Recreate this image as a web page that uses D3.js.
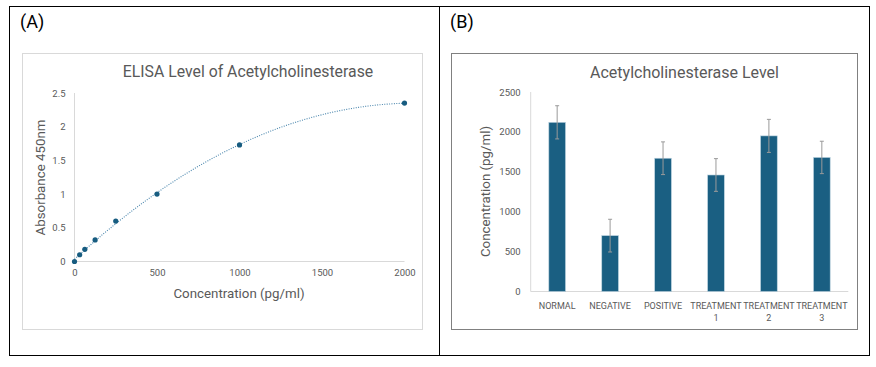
<!DOCTYPE html>
<html><head><meta charset="utf-8">
<script src="https://cdn.jsdelivr.net/npm/d3@7"></script>
<style>
html,body{margin:0;padding:0;background:#fff;}
svg{display:block;font-family:Roboto,"Open Sans",sans-serif;}
</style></head>
<body>
<svg id="c" width="876" height="367"></svg>
<script>
// Panel A data: ELISA standard curve
const stdConc = [0, 31.25, 62.5, 125, 250, 500, 1000, 2000];
const stdAbs = [0, 0.10, 0.18, 0.32, 0.60, 1.00, 1.73, 2.35];
const aXTicks = [0, 500, 1000, 1500, 2000];
const aYTicks = [0, 0.5, 1, 1.5, 2, 2.5];

// Panel B data: bars with error bars
const groups = ["NORMAL", "NEGATIVE", "POSITIVE", "TREATMENT 1", "TREATMENT 2", "TREATMENT 3"];
const groupValues = [2120, 700, 1670, 1460, 1950, 1680];
const groupErrors = [208, 205, 205, 205, 207, 203];
const bYTicks = [0, 500, 1000, 1500, 2000, 2500];

const svg = d3.select("#c");

// outer frame
svg.append("rect").attr("x", 9.5).attr("y", 6.5).attr("width", 860).attr("height", 349)
  .attr("fill", "none").attr("stroke", "#000").attr("stroke-width", 1);
svg.append("line").attr("x1", 439.5).attr("x2", 439.5).attr("y1", 6.5).attr("y2", 355.5)
  .attr("stroke", "#000");

// panel labels
svg.append("text").attr("x", 20).attr("y", 28).attr("font-size", 18).attr("fill", "#000").text("(A)");
svg.append("text").attr("x", 450).attr("y", 28).attr("font-size", 18).attr("fill", "#000").text("(B)");

// ---------- Panel A ----------
svg.append("rect").attr("x", 22.5).attr("y", 53.5).attr("width", 400).attr("height", 276)
  .attr("fill", "#fff").attr("stroke", "#d9d9d9");
svg.append("text").attr("x", 248).attr("y", 77).attr("text-anchor", "middle")
  .attr("font-size", 15.8).attr("fill", "#595959").text("ELISA Level of Acetylcholinesterase");

const xA = d3.scaleLinear().domain([0, 2000]).range([74.5, 404.5]);
const yA = d3.scaleLinear().domain([0, 2.5]).range([261.5, 93]);

const gA = svg.append("g");
gA.append("line").attr("x1", xA(0)).attr("x2", xA(0)).attr("y1", yA(2.5)).attr("y2", yA(0)).attr("stroke", "#d9d9d9");
gA.append("line").attr("x1", xA(0)).attr("x2", xA(2000)).attr("y1", yA(0)).attr("y2", yA(0)).attr("stroke", "#d9d9d9");

const axA = d3.axisBottom(xA).tickValues(aXTicks).tickSize(0).tickPadding(8).tickFormat(d3.format("d"));
gA.append("g").attr("transform", `translate(0,${yA(0)})`).call(axA)
  .call(g => g.select(".domain").remove())
  .call(g => g.selectAll("text").attr("font-size", 9.5).attr("fill", "#595959").attr("font-family", "Roboto"));
const ayA = d3.axisLeft(yA).tickValues(aYTicks).tickSize(0).tickPadding(9).tickFormat(d => String(d));
gA.append("g").attr("transform", `translate(${xA(0)},0)`).call(ayA)
  .call(g => g.select(".domain").remove())
  .call(g => g.selectAll("text").attr("font-size", 9.5).attr("fill", "#595959").attr("font-family", "Roboto"));

gA.append("text").attr("x", 239).attr("y", 298).attr("text-anchor", "middle")
  .attr("font-size", 13.3).attr("fill", "#595959").text("Concentration (pg/ml)");
gA.append("text").attr("transform", "translate(45,177.5) rotate(-90)").attr("text-anchor", "middle")
  .attr("font-size", 13.3).attr("fill", "#595959").text("Absorbance 450nm");

// quadratic least-squares trendline (computed from the data)
function polyfit2(xs, ys) {
  let S = [[0,0,0],[0,0,0],[0,0,0]], T = [0,0,0];
  xs.forEach((x, i) => {
    const p = [1, x, x*x];
    for (let r = 0; r < 3; r++) { T[r] += p[r]*ys[i]; for (let c = 0; c < 3; c++) S[r][c] += p[r]*p[c]; }
  });
  const M = S.map((row, i) => row.concat([T[i]]));
  for (let i = 0; i < 3; i++) {
    let piv = i; for (let k = i+1; k < 3; k++) if (Math.abs(M[k][i]) > Math.abs(M[piv][i])) piv = k;
    [M[i], M[piv]] = [M[piv], M[i]];
    for (let k = i+1; k < 3; k++) { const f = M[k][i]/M[i][i]; for (let c = i; c < 4; c++) M[k][c] -= f*M[i][c]; }
  }
  const b = [0,0,0];
  for (let i = 2; i >= 0; i--) { let s = M[i][3]; for (let c = i+1; c < 3; c++) s -= M[i][c]*b[c]; b[i] = s/M[i][i]; }
  return b;
}
const coef = polyfit2(stdConc, stdAbs);
const trend = d3.range(0, 2001, 10).map(x => [x, coef[0] + coef[1]*x + coef[2]*x*x]);
gA.append("path").datum(trend)
  .attr("d", d3.line().x(d => xA(d[0])).y(d => yA(d[1])))
  .attr("fill", "none").attr("stroke", "#4a86ad").attr("stroke-width", 1.1).attr("stroke-dasharray", "1,1.4");
gA.selectAll("circle").data(stdConc).join("circle")
  .attr("cx", d => xA(d)).attr("cy", (d, i) => yA(stdAbs[i])).attr("r", 2.6).attr("fill", "#175c80");

// ---------- Panel B ----------
svg.append("rect").attr("x", 451.5).attr("y", 53.5).attr("width", 406).attr("height", 276)
  .attr("fill", "#fff").attr("stroke", "#808080");
svg.append("text").attr("x", 684.5).attr("y", 78).attr("text-anchor", "middle")
  .attr("font-size", 16).attr("fill", "#595959").text("Acetylcholinesterase Level");

const xB = d3.scaleBand().domain(groups).range([530.7, 848.3]).padding(0);
const yB = d3.scaleLinear().domain([0, 2500]).range([291.5, 92]);
const gB = svg.append("g");

gB.append("line").attr("x1", 530.7).attr("x2", 530.7).attr("y1", yB(2500)).attr("y2", yB(0)).attr("stroke", "#d9d9d9");
gB.append("line").attr("x1", 530.7).attr("x2", 848.3).attr("y1", yB(0)).attr("y2", yB(0)).attr("stroke", "#d9d9d9");

const ayB = d3.axisLeft(yB).tickValues(bYTicks).tickSize(0).tickPadding(10).tickFormat(d3.format("d"));
gB.append("g").attr("transform", `translate(530.7,0)`).call(ayB)
  .call(g => g.select(".domain").remove())
  .call(g => g.selectAll("text").attr("font-size", 9.5).attr("fill", "#595959").attr("font-family", "Roboto"));

const bw = xB.bandwidth() * 0.315;
gB.selectAll("rect.bar").data(groups).join("rect").attr("class", "bar")
  .attr("x", d => xB(d) + xB.bandwidth()/2 - bw/2).attr("width", bw)
  .attr("y", (d, i) => yB(groupValues[i])).attr("height", (d, i) => yB(0) - yB(groupValues[i]))
  .attr("fill", "#1a5f82").attr("stroke", "#bcd3df").attr("stroke-width", 0.6);

// error bars
const eb = gB.selectAll("g.err").data(groups).join("g").attr("class", "err");
eb.append("line")
  .attr("x1", d => xB(d) + xB.bandwidth()/2).attr("x2", d => xB(d) + xB.bandwidth()/2)
  .attr("y1", (d, i) => yB(groupValues[i] + groupErrors[i])).attr("y2", (d, i) => yB(groupValues[i] - groupErrors[i]))
  .attr("stroke", "#9a9a9a").attr("stroke-width", 1);
[1, -1].forEach(s => {
  eb.append("line")
    .attr("x1", d => xB(d) + xB.bandwidth()/2 - 2).attr("x2", d => xB(d) + xB.bandwidth()/2 + 2)
    .attr("y1", (d, i) => yB(groupValues[i] + s*groupErrors[i])).attr("y2", (d, i) => yB(groupValues[i] + s*groupErrors[i]))
    .attr("stroke", "#9a9a9a").attr("stroke-width", 1);
});

// category labels (wrapped)
gB.selectAll("text.cat").data(groups).join("text").attr("class", "cat")
  .attr("text-anchor", "middle").attr("font-size", 9).attr("fill", "#595959")
  .each(function(d) {
    const t = d3.select(this);
    const cx = xB(d) + xB.bandwidth()/2;
    const parts = d.startsWith("TREATMENT") ? d.split(" ") : [d];
    parts.forEach((p, k) => t.append("tspan").attr("x", cx).attr("y", 308.5 + k*12.5).text(p));
  });

gB.append("text").attr("transform", "translate(490,191.5) rotate(-90)").attr("text-anchor", "middle")
  .attr("font-size", 13.3).attr("fill", "#595959").text("Concentration (pg/ml)");
</script>
</body></html>
